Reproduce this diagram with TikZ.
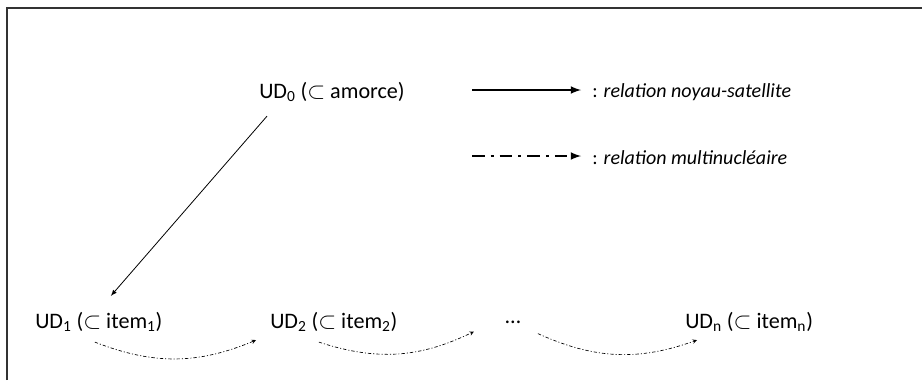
\documentclass[tikz,border=0pt]{standalone}
\usepackage{fontspec}
\setmainfont{Carlito}
\usepackage{amsmath,amssymb}
\usetikzlibrary{arrows,positioning}

\begin{document}
\begin{tikzpicture}[x=0.75pt,y=-0.75pt,
	ud/.style={anchor=west,inner sep=0pt,font=\fontsize{16.6}{20}\selectfont},
	legend/.style={anchor=west,inner sep=0pt,font=\fontsize{15}{18}\selectfont},
	nsarrow/.style={-latex,line width=1.6pt},
	multiarrow/.style={-latex,line width=1.6pt,dash pattern=on 9.5pt off 4.5pt on 2.2pt off 4.5pt},
	chain/.style={-stealth,line width=0.5pt,dash pattern=on 2.5pt off 1.5pt on 0.8pt off 1.5pt,bend right=22}]
	\useasboundingbox (0,0) rectangle (922,380);
	% cadre
	\draw[line width=1pt,black!80] (7,380)--(7,8)--(922,8);
	% unites
	\node (ud0) at (259,92) [ud] {UD\textsubscript{0} ($\subset$ amorce)};
	\node (ud1) at (35,322) [ud] {UD\textsubscript{1} ($\subset$ item\textsubscript{1})};
	\node (ud2) at (270,322) [ud] {UD\textsubscript{2} ($\subset$ item\textsubscript{2})};
	\node (dots) at (505,322) [ud] {\dots};
	\node (udn) at (685,322) [ud] {UD\textsubscript{n} ($\subset$ item\textsubscript{n})};
	% legende
	\coordinate (ns1) at (472,90);
	\coordinate (ns2) at (581,90);
	\coordinate (mn1) at (472,156);
	\coordinate (mn2) at (581,156);
	\draw[nsarrow] (ns1)--(ns2);
	\draw[multiarrow] (mn1)--(mn2);
	\node (nslab) at (592,92) [legend] {: \textit{relation noyau-satellite}};
	\node (mnlab) at (592,158) [legend] {: \textit{relation multinucléaire}};
	% relations
	\draw[-latex,line width=0.6pt] ([shift={(8,14)}]ud0.south west)--([shift={(12,-16)}]ud1.north);
	\draw[chain] ([shift={(-4,10)}]ud1.south)to([shift={(-14,8)}]ud2.south west);
	\draw[chain] ([shift={(-15,10)}]ud2.south)to([shift={(-39,8)}]dots.south);
	\draw[chain] ([shift={(25,10)}]dots.south)to([shift={(12,8)}]udn.south west);
\end{tikzpicture}
\end{document}
